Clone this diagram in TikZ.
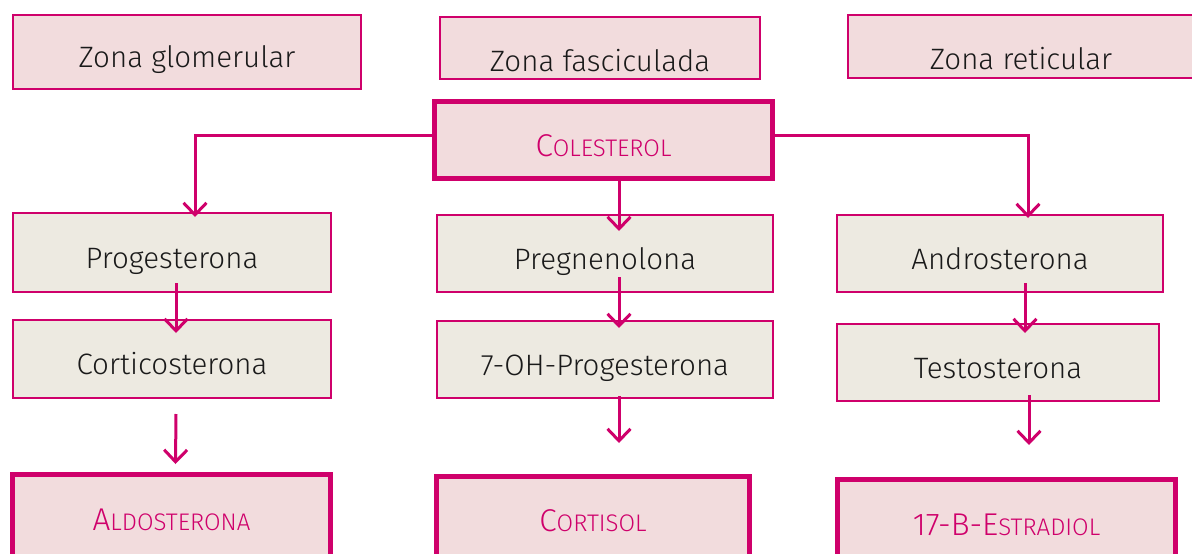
\documentclass[tikz,border=0pt]{standalone}
\usepackage{fontspec}
\setmainfont{Fira Sans Light}
\usetikzlibrary{arrows.meta,calc}
\definecolor{mag}{HTML}{CF006B}
\definecolor{pinkfill}{HTML}{F2DCDD}
\definecolor{beige}{HTML}{EDEAE1}
\definecolor{txt}{HTML}{1A1A1A}
\newcommand\fsc[2]{{\fontsize{31.5}{31.5}\selectfont #1}{\fontsize{24}{24}\selectfont #2}}
\newcommand\bline[2]{\raisebox{-#1pt}[0pt][0pt]{#2}}
\tikzset{
  zonebox/.style={draw=mag, line width=2pt, fill=pinkfill, text=txt, font=\fontsize{29.5}{29.5}\selectfont, inner sep=0pt},
  stepbox/.style={draw=mag, line width=2pt, fill=beige, text=txt, font=\fontsize{29.5}{29.5}\selectfont, inner sep=0pt},
  keybox/.style={draw=mag, line width=5pt, fill=pinkfill, text=mag, inner sep=0pt},
  arr/.style={draw=mag, line width=3pt, -{Straight Barb[length=12pt,width=23pt,line width=3pt]}},
}
\begin{document}
\begin{tikzpicture}[x=1pt,y=-1pt]
\useasboundingbox (0,0) rectangle (1192,554);
\clip (0,0) rectangle (1192,554);
% top zones
\node[zonebox, minimum width=348pt, minimum height=74pt] (zg) at (187,52) {\bline{16}{Zona glomerular}};
\node[zonebox, minimum width=320pt, minimum height=62pt] (zf) at (600,48) {\bline{23.5}{Zona fasciculada}};
\node[zonebox, minimum width=352pt, minimum height=63pt] (zr) at (1024,46.5) {\hspace*{-6pt}\bline{22.5}{Zona reticular}};
% colesterol
\node[keybox, minimum width=338pt, minimum height=77pt] (col) at (603.5,140) {\bline{16}{\fsc{C}{OLESTEROL}}};
% middle row
\node[stepbox, minimum width=318pt, minimum height=79pt] (prog) at (172,252.5) {\bline{15.5}{Progesterona}};
\node[stepbox, minimum width=336pt, minimum height=77pt] (preg) at (605,253.5) {\bline{15.5}{Pregnenolona}};
\node[stepbox, minimum width=326pt, minimum height=77pt] (andr) at (1000,253.5) {\bline{15.5}{Androsterona}};
% third row
\node[stepbox, minimum width=318pt, minimum height=78pt] (cort) at (172,359) {\bline{15.5}{Corticosterona}};
\node[stepbox, minimum width=336pt, minimum height=77pt] (ohp) at (605,359.5) {\bline{15.5}{7-OH-Progesterona}};
\node[stepbox, minimum width=322pt, minimum height=77pt] (test) at (998,362.5) {\bline{15.5}{Testosterona}};
% bottom row
\node[keybox, minimum width=318pt, minimum height=93pt] (ald) at (171.5,521) {\bline{9}{\fsc{A}{LDOSTERONA}}};
\node[keybox, minimum width=313pt, minimum height=91pt] (cortisol) at (593,522) {\bline{9}{\fsc{C}{ORTISOL}}};
\node[keybox, minimum width=338pt, minimum height=91pt] (estr) at (1006.5,525) {\bline{10}{\fsc{17-B-E}{STRADIOL}}};
% connectors
\draw[arr] ($(col.south)+(15.5,0)$) -- ($(preg.north)+(14,17)$);
\draw[arr] ($(col.west)+(0,-5)$) -| ($(prog.north)+(23,5)$);
\draw[arr] ($(col.east)+(0,-5)$) -| ($(andr.north)+(28,4)$);
\draw[arr] ($(prog.south)+(4,-10)$) -- ($(cort.north)+(4,14)$);
\draw[arr] ($(cort.south)+(4,15)$) -- ($(ald.north)+(4,-8)$);
\draw[arr] ($(preg.south)+(14,-16)$) -- ($(ohp.north)+(14,8)$);
\draw[arr] ($(ohp.south)+(14,-3)$) -- ($(cortisol.north)+(26,-31)$);
\draw[arr] ($(andr.south)+(25,-10)$) -- ($(test.north)+(27,10)$);
\draw[arr] ($(test.south)+(31,-7)$) -- ($(estr.north)+(22.5,-32)$);
\end{tikzpicture}
\end{document}
